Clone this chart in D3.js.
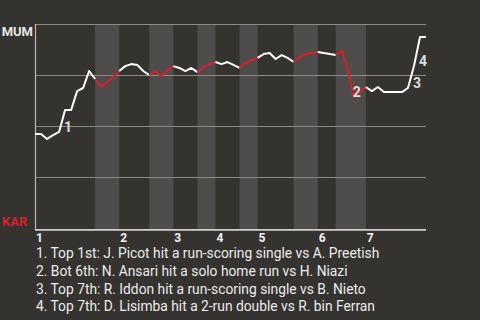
<!DOCTYPE html>
<html>
<head>
<meta charset="utf-8">
<script src="https://cdn.jsdelivr.net/npm/d3@7"></script>
<style>
  html, body { margin: 0; padding: 0; background: #353330; }
  svg { display: block; }
</style>
</head>
<body>
<svg id="chart" width="480" height="320"></svg>
<script>
// Win probability for MUM after each plate appearance (0 = KAR, 1 = MUM)
const winProb = [
  0.462, 0.462, 0.438, 0.457, 0.472, 0.579, 0.579, 0.672, 0.687, 0.770,
  0.731, 0.692, 0.716, 0.741, 0.770, 0.794, 0.804, 0.800, 0.770, 0.750,
  0.770, 0.746, 0.775, 0.794, 0.785, 0.770, 0.785, 0.765, 0.790, 0.804,
  0.814, 0.804, 0.814, 0.800, 0.785, 0.809, 0.824, 0.834, 0.853, 0.858,
  0.829, 0.848, 0.834, 0.814, 0.839, 0.853, 0.858, 0.863, 0.858, 0.853,
  0.848, 0.868, 0.775, 0.643, 0.667, 0.692, 0.672, 0.692, 0.667, 0.667,
  0.667, 0.667, 0.687, 0.795, 0.936, 0.936
];
// Plate appearance index at which each half-inning starts (top 1st ... top 7th), plus end
const halfStarts = [0, 10, 14, 19, 23, 27, 30, 34, 37, 43, 47, 50, 55, 65];
const inningLabels = ["1", "2", "3", "4", "5", "6", "7"];
const yTicks = [0.25, 0.5, 0.75, 1];
const teamTop = "MUM";
const teamBottom = "KAR";
// Key events: index of the plate appearance where the event starts
const eventIdx = [4, 52, 62, 63];
const eventNum = ["1", "2", "3", "4"];
const eventText = [
  "1. Top 1st: J. Picot hit a run-scoring single vs A. Preetish",
  "2. Bot 6th: N. Ansari hit a solo home run vs H. Niazi",
  "3. Top 7th: R. Iddon hit a run-scoring single vs B. Nieto",
  "4. Top 7th: D. Lisimba hit a 2-run double vs R. bin Ferran"
];

const svg = d3.select("#chart");
const FONT = "Roboto, 'Noto Sans', sans-serif";
const x = d3.scaleLinear().domain([0, winProb.length - 1]).range([35, 426]);
const y = d3.scaleLinear().domain([0, 1]).range([228.5, 24]);

const halves = [];
for (let k = 0; k < halfStarts.length - 1; k++) {
  halves.push({ s: halfStarts[k], e: halfStarts[k + 1], bottom: k % 2 === 1 });
}

// shaded bands for bottom halves
svg.append("g").selectAll("rect")
  .data(halves.filter(h => h.bottom))
  .join("rect")
  .attr("x", d => x(d.s))
  .attr("width", d => x(d.e) - x(d.s))
  .attr("y", y(1))
  .attr("height", y(0) - y(1) + 1)
  .attr("fill", "#4f4d4b");

// gridlines
svg.append("g").selectAll("line")
  .data(yTicks)
  .join("line")
  .attr("x1", x(0)).attr("x2", x(winProb.length - 1))
  .attr("y1", d => Math.round(y(d)) + 0.5).attr("y2", d => Math.round(y(d)) + 0.5)
  .attr("stroke", "#8a8a88").attr("stroke-width", 1);

// axes
svg.append("line")
  .attr("x1", 35.5).attr("x2", 35.5).attr("y1", y(1)).attr("y2", 230)
  .attr("stroke", "#b8b8b6").attr("stroke-width", 1.2);
svg.append("line")
  .attr("x1", 35).attr("x2", x(winProb.length - 1)).attr("y1", 229.8).attr("y2", 229.8)
  .attr("stroke", "#cfcfcd").attr("stroke-width", 1.8);

// line, per half inning
const lineGen = d3.line().x(d => x(d.i)).y(d => y(d.v));
svg.append("g").selectAll("path")
  .data(halves)
  .join("path")
  .attr("d", h => lineGen(d3.range(h.s, h.e + 1).map(i => ({ i, v: winProb[i] }))))
  .attr("fill", "none")
  .attr("stroke", h => h.bottom ? "#d81f2b" : "#ffffff")
  .attr("stroke-width", 2)
  .attr("stroke-linejoin", "round");

// event labels
svg.append("g").selectAll("text")
  .data(eventIdx.map((i, k) => ({ i, n: eventNum[k] })))
  .join("text")
  .attr("x", d => x(d.i) + 5)
  .attr("y", d => Math.max(y(winProb[d.i]), y(winProb[d.i + 1])))
  .attr("font-family", FONT).attr("font-weight", "bold").attr("font-size", 14)
  .attr("fill", "#dcdcda")
  .text(d => d.n);

// inning labels
svg.append("g").selectAll("text")
  .data(inningLabels.map((t, k) => ({ t, i: halfStarts[k * 2] })))
  .join("text")
  .attr("x", d => x(d.i) + 1)
  .attr("y", 241.5)
  .attr("font-family", FONT).attr("font-weight", "bold").attr("font-size", 12)
  .attr("fill", "#f2f2f2")
  .text(d => d.t);

// team labels
svg.append("text").attr("x", 33).attr("y", 36).attr("text-anchor", "end")
  .attr("font-family", FONT).attr("font-weight", "bold").attr("font-size", 13)
  .attr("fill", "#e6e6e4").text(teamTop);
svg.append("text").attr("x", 2).attr("y", 226)
  .attr("font-family", FONT).attr("font-weight", "bold").attr("font-size", 13)
  .attr("fill", "#d81f2b").text(teamBottom);

// legend
svg.append("g").selectAll("text")
  .data(eventText)
  .join("text")
  .attr("x", 36)
  .attr("y", (d, k) => 258 + k * 17.8)
  .attr("font-family", FONT).attr("font-size", 13.8)
  .attr("fill", "#ececea")
  .text(d => d);
</script>
</body>
</html>
